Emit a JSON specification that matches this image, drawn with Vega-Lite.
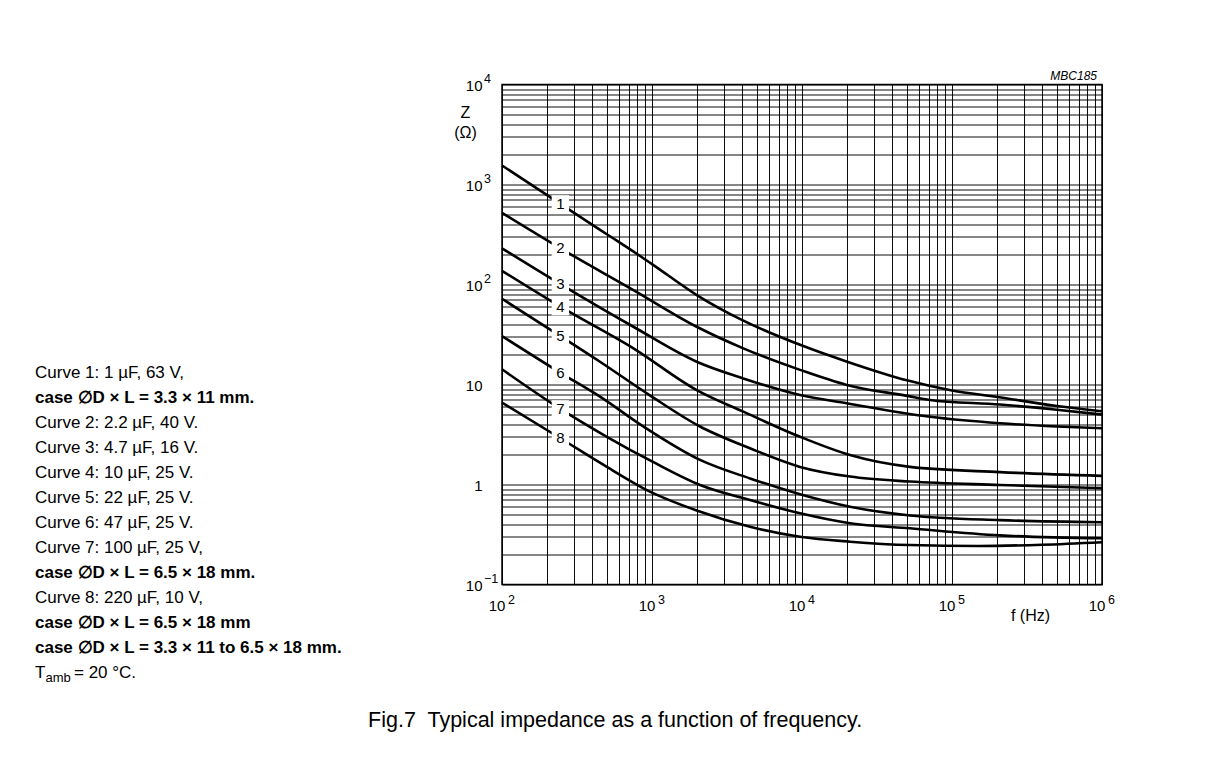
{
  "$schema": "https://vega.github.io/schema/vega-lite/v6.json",
  "background": "white",
  "padding": {"left": 35, "top": 68.5, "right": 5, "bottom": 5},
  "bounds": "flush",
  "spacing": 67,
  "title": {"text": "Fig.7\u00a0 Typical impedance as a function of frequency.", "orient": "bottom", "anchor": "middle", "fontSize": 21.5, "font": "Liberation Sans", "fontWeight": "normal", "color": "#000", "dx": 40, "offset": 25},
  "config": {"view": {"stroke": null}, "font": "Liberation Sans"},
  "datasets": {
    "notes": [
      {"row": 1, "text": "Curve 1: 1 µF, 63 V,"},
      {"row": 2, "text": "case ∅D × L = 3.3 × 11 mm."},
      {"row": 3, "text": "Curve 2: 2.2 µF, 40 V."},
      {"row": 4, "text": "Curve 3: 4.7 µF, 16 V."},
      {"row": 5, "text": "Curve 4: 10 µF, 25 V."},
      {"row": 6, "text": "Curve 5: 22 µF, 25 V."},
      {"row": 7, "text": "Curve 6: 47 µF, 25 V."},
      {"row": 8, "text": "Curve 7: 100 µF, 25 V,"},
      {"row": 9, "text": "case ∅D × L = 6.5 × 18 mm."},
      {"row": 10, "text": "Curve 8: 220 µF, 10 V,"},
      {"row": 11, "text": "case ∅D × L = 6.5 × 18 mm"},
      {"row": 12, "text": "case ∅D × L = 3.3 × 11 to 6.5 × 18 mm."}
    ],
    "tamb": [{"row": 13, "sym": "T", "sub": "amb", "rest": "= 20 °C."}],
    "code": [{"f": 1000000, "z": 10000, "text": "MBC185"}],
    "curves": [
      {"curve": "1", "f": 100, "z": 1550}, {"curve": "1", "f": 245, "z": 640}, {"curve": "1", "f": 500, "z": 318}, {"curve": "1", "f": 791, "z": 203}, {"curve": "1", "f": 1000, "z": 160}, {"curve": "1", "f": 2000, "z": 78}, {"curve": "1", "f": 4000, "z": 44}, {"curve": "1", "f": 10000, "z": 24.5}, {"curve": "1", "f": 20000, "z": 16.9}, {"curve": "1", "f": 50000, "z": 11}, {"curve": "1", "f": 100000, "z": 8.7}, {"curve": "1", "f": 200000, "z": 7.5}, {"curve": "1", "f": 500000, "z": 6.1}, {"curve": "1", "f": 1000000, "z": 5.4},
      {"curve": "2", "f": 100, "z": 520}, {"curve": "2", "f": 245, "z": 230}, {"curve": "2", "f": 752, "z": 88}, {"curve": "2", "f": 1986, "z": 37.8}, {"curve": "2", "f": 4060, "z": 23}, {"curve": "2", "f": 9700, "z": 14}, {"curve": "2", "f": 19860, "z": 9.9}, {"curve": "2", "f": 50000, "z": 7.7}, {"curve": "2", "f": 71300, "z": 7.0}, {"curve": "2", "f": 209000, "z": 6.3}, {"curve": "2", "f": 500000, "z": 5.6}, {"curve": "2", "f": 1000000, "z": 5.0},
      {"curve": "3", "f": 100, "z": 230}, {"curve": "3", "f": 245, "z": 101}, {"curve": "3", "f": 752, "z": 37.8}, {"curve": "3", "f": 1986, "z": 16.9}, {"curve": "3", "f": 4060, "z": 11.5}, {"curve": "3", "f": 9700, "z": 7.85}, {"curve": "3", "f": 19860, "z": 6.5}, {"curve": "3", "f": 71300, "z": 4.76}, {"curve": "3", "f": 209000, "z": 4.1}, {"curve": "3", "f": 500000, "z": 3.8}, {"curve": "3", "f": 1000000, "z": 3.65},
      {"curve": "4", "f": 100, "z": 137}, {"curve": "4", "f": 245, "z": 60}, {"curve": "4", "f": 752, "z": 23}, {"curve": "4", "f": 1986, "z": 8.8}, {"curve": "4", "f": 4060, "z": 5.35}, {"curve": "4", "f": 9700, "z": 3.0}, {"curve": "4", "f": 20900, "z": 1.97}, {"curve": "4", "f": 52500, "z": 1.5}, {"curve": "4", "f": 209000, "z": 1.33}, {"curve": "4", "f": 1000000, "z": 1.22},
      {"curve": "5", "f": 100, "z": 72}, {"curve": "5", "f": 245, "z": 30.5}, {"curve": "5", "f": 450, "z": 16.9}, {"curve": "5", "f": 967, "z": 7.8}, {"curve": "5", "f": 2090, "z": 3.8}, {"curve": "5", "f": 4500, "z": 2.3}, {"curve": "5", "f": 9700, "z": 1.5}, {"curve": "5", "f": 20900, "z": 1.2}, {"curve": "5", "f": 52500, "z": 1.07}, {"curve": "5", "f": 209000, "z": 0.99}, {"curve": "5", "f": 1000000, "z": 0.92},
      {"curve": "6", "f": 100, "z": 30.5}, {"curve": "6", "f": 245, "z": 13.1}, {"curve": "6", "f": 450, "z": 7.55}, {"curve": "6", "f": 875, "z": 3.8}, {"curve": "6", "f": 2090, "z": 1.76}, {"curve": "6", "f": 4500, "z": 1.15}, {"curve": "6", "f": 9700, "z": 0.8}, {"curve": "6", "f": 20900, "z": 0.6}, {"curve": "6", "f": 52500, "z": 0.49}, {"curve": "6", "f": 209000, "z": 0.44}, {"curve": "6", "f": 1000000, "z": 0.42},
      {"curve": "7", "f": 100, "z": 14.2}, {"curve": "7", "f": 245, "z": 5.7}, {"curve": "7", "f": 500, "z": 3.0}, {"curve": "7", "f": 1000, "z": 1.7}, {"curve": "7", "f": 2090, "z": 0.99}, {"curve": "7", "f": 4500, "z": 0.7}, {"curve": "7", "f": 9700, "z": 0.515}, {"curve": "7", "f": 20900, "z": 0.41}, {"curve": "7", "f": 52500, "z": 0.365}, {"curve": "7", "f": 209000, "z": 0.31}, {"curve": "7", "f": 1000000, "z": 0.29},
      {"curve": "8", "f": 100, "z": 6.6}, {"curve": "8", "f": 245, "z": 2.9}, {"curve": "8", "f": 500, "z": 1.5}, {"curve": "8", "f": 924, "z": 0.88}, {"curve": "8", "f": 1986, "z": 0.55}, {"curve": "8", "f": 4500, "z": 0.378}, {"curve": "8", "f": 9700, "z": 0.3}, {"curve": "8", "f": 20900, "z": 0.268}, {"curve": "8", "f": 52500, "z": 0.248}, {"curve": "8", "f": 150000, "z": 0.243}, {"curve": "8", "f": 400000, "z": 0.25}, {"curve": "8", "f": 1000000, "z": 0.265}
    ],
    "labels": [
      {"curve": "1", "f": 245, "z": 640},
      {"curve": "2", "f": 245, "z": 230},
      {"curve": "3", "f": 245, "z": 101},
      {"curve": "4", "f": 245, "z": 60},
      {"curve": "5", "f": 245, "z": 30.5},
      {"curve": "6", "f": 245, "z": 13.1},
      {"curve": "7", "f": 245, "z": 5.7},
      {"curve": "8", "f": 245, "z": 2.9}
    ]
  },
  "hconcat": [
    {
      "width": 400,
      "height": 600,
      "encoding": {
        "x": {"datum": 0, "type": "quantitative", "scale": {"domain": [0, 1]}, "axis": null},
        "y": {"field": "row", "type": "quantitative", "scale": {"domain": [-10.505, 13.447], "reverse": true, "nice": false, "zero": false}, "axis": null}
      },
      "layer": [
        {
          "data": {"name": "notes"},
          "transform": [{"filter": "substring(datum.text, 0, 4) !== 'case'"}],
          "mark": {"type": "text", "align": "left", "baseline": "middle", "fontSize": 17, "font": "Liberation Sans", "color": "#000"},
          "encoding": {"text": {"field": "text"}}
        },
        {
          "data": {"name": "notes"},
          "transform": [{"filter": "substring(datum.text, 0, 4) === 'case'"}],
          "mark": {"type": "text", "align": "left", "baseline": "middle", "fontSize": 17, "fontWeight": "bold", "font": "Liberation Sans", "color": "#000"},
          "encoding": {"text": {"field": "text"}}
        },
        {
          "data": {"name": "tamb"},
          "mark": {"type": "text", "align": "left", "baseline": "middle", "fontSize": 17, "font": "Liberation Sans", "color": "#000"},
          "encoding": {"text": {"field": "sym"}}
        },
        {
          "data": {"name": "tamb"},
          "mark": {"type": "text", "align": "left", "baseline": "middle", "fontSize": 13, "dx": 10.5, "dy": 5, "font": "Liberation Sans", "color": "#000"},
          "encoding": {"text": {"field": "sub"}}
        },
        {
          "data": {"name": "tamb"},
          "mark": {"type": "text", "align": "left", "baseline": "middle", "fontSize": 17, "dx": 39, "font": "Liberation Sans", "color": "#000"},
          "encoding": {"text": {"field": "rest"}}
        }
      ]
    },
    {
      "width": 600,
      "height": 500,
      "view": {"stroke": "#000", "strokeWidth": 1.5},
      "resolve": {"axis": {"x": "independent", "y": "independent"}},
      "layer": [
        {
          "data": {"name": "curves"},
          "mark": {"type": "line", "color": "#000", "strokeWidth": 2.6, "interpolate": "monotone"},
          "encoding": {
            "x": {
              "field": "f", "type": "quantitative",
              "scale": {"type": "log", "domain": [100, 1000000], "nice": false},
              "axis": {
                "orient": "bottom",
                "values": [100, 200, 300, 400, 500, 600, 700, 800, 900, 1000, 2000, 3000, 4000, 5000, 6000, 7000, 8000, 9000, 10000, 20000, 30000, 40000, 50000, 60000, 70000, 80000, 90000, 100000, 200000, 300000, 400000, 500000, 600000, 700000, 800000, 900000, 1000000],
                "labelExpr": "(datum.value == 100 || datum.value == 1000 || datum.value == 10000 || datum.value == 100000 || datum.value == 1000000) ? '10' : ''",
                "grid": true, "gridColor": "#000", "gridWidth": 1, "gridOpacity": 0.95,
                "ticks": false, "domain": false,
                "labelFontSize": 15, "labelFont": "Liberation Sans", "labelColor": "#000", "labelPadding": 14, "labelOffset": -5.5,
                "labelFlush": false, "labelOverlap": false, "labelBound": false,
                "title": "f  (Hz)", "titleFontSize": 16, "titleFont": "Liberation Sans", "titleFontWeight": "normal", "titleColor": "#000",
                "titleX": 528, "titleY": 31, "titleAlign": "center", "titleBaseline": "middle"
              }
            },
            "y": {
              "field": "z", "type": "quantitative",
              "scale": {"type": "log", "domain": [0.1, 10000], "nice": false},
              "axis": {
                "orient": "left",
                "values": [0.1, 0.2, 0.3, 0.4, 0.5, 0.6, 0.7, 0.8, 0.9, 1, 2, 3, 4, 5, 6, 7, 8, 9, 10, 20, 30, 40, 50, 60, 70, 80, 90, 100, 200, 300, 400, 500, 600, 700, 800, 900, 1000, 2000, 3000, 4000, 5000, 6000, 7000, 8000, 9000, 10000],
                "labelExpr": "datum.value == 1 ? '1' : (datum.value == 0.1 || datum.value == 10 || datum.value == 100 || datum.value == 1000 || datum.value == 10000) ? '10' : ''",
                "grid": true, "gridColor": "#000", "gridWidth": 1, "gridOpacity": 0.95,
                "ticks": false, "domain": false,
                "labelFontSize": 15, "labelFont": "Liberation Sans", "labelColor": "#000", "labelPadding": 20, "labelOffset": 1,
                "labelOverlap": false, "labelBound": false,
                "title": ["Z", "(Ω)"], "titleAngle": 0, "titleFontSize": 16, "titleFont": "Liberation Sans", "titleFontWeight": "normal", "titleColor": "#000",
                "titleX": -37, "titleY": 28, "titleAlign": "center", "titleBaseline": "middle", "titleLineHeight": 20
              }
            },
            "detail": {"field": "curve"}
          }
        },
        {
          "data": {"name": "labels"},
          "mark": {"type": "point", "shape": "square", "filled": true, "color": "#fff", "opacity": 1, "size": 300},
          "encoding": {
            "x": {
              "field": "f", "type": "quantitative",
              "axis": {
                "orient": "bottom",
                "values": [100, 1000, 10000, 100000, 1000000],
                "labelExpr": "datum.value == 100 ? '2' : datum.value == 1000 ? '3' : datum.value == 10000 ? '4' : datum.value == 100000 ? '5' : '6'",
                "grid": false, "ticks": false, "domain": false,
                "labelFontSize": 12.5, "labelFont": "Liberation Sans", "labelColor": "#000", "labelPadding": 9, "labelOffset": 9,
                "labelFlush": false, "labelOverlap": false, "labelBound": false, "title": null
              }
            },
            "y": {
              "field": "z", "type": "quantitative",
              "axis": {
                "orient": "left",
                "values": [0.1, 100, 1000, 10000],
                "labelExpr": "datum.value == 0.1 ? '−1' : datum.value == 100 ? '2' : datum.value == 1000 ? '3' : '4'",
                "grid": false, "ticks": false, "domain": false,
                "labelFontSize": 12.5, "labelFont": "Liberation Sans", "labelColor": "#000", "labelPadding": 18.5, "labelAlign": "left", "labelOffset": -6.5,
                "labelOverlap": false, "labelBound": false, "title": null
              }
            }
          }
        },
        {
          "data": {"name": "labels"},
          "mark": {"type": "text", "fontSize": 15, "align": "center", "baseline": "middle", "color": "#000", "font": "Liberation Sans"},
          "encoding": {
            "x": {"field": "f", "type": "quantitative", "axis": null},
            "y": {"field": "z", "type": "quantitative", "axis": null},
            "text": {"field": "curve"}
          }
        },
        {
          "data": {"name": "code"},
          "mark": {"type": "text", "fontSize": 12, "fontStyle": "italic", "align": "right", "baseline": "alphabetic", "dx": -5, "dy": -5, "color": "#000", "font": "Liberation Sans"},
          "encoding": {
            "x": {"field": "f", "type": "quantitative", "axis": null},
            "y": {"field": "z", "type": "quantitative", "axis": null},
            "text": {"field": "text"}
          }
        }
      ]
    }
  ]
}
